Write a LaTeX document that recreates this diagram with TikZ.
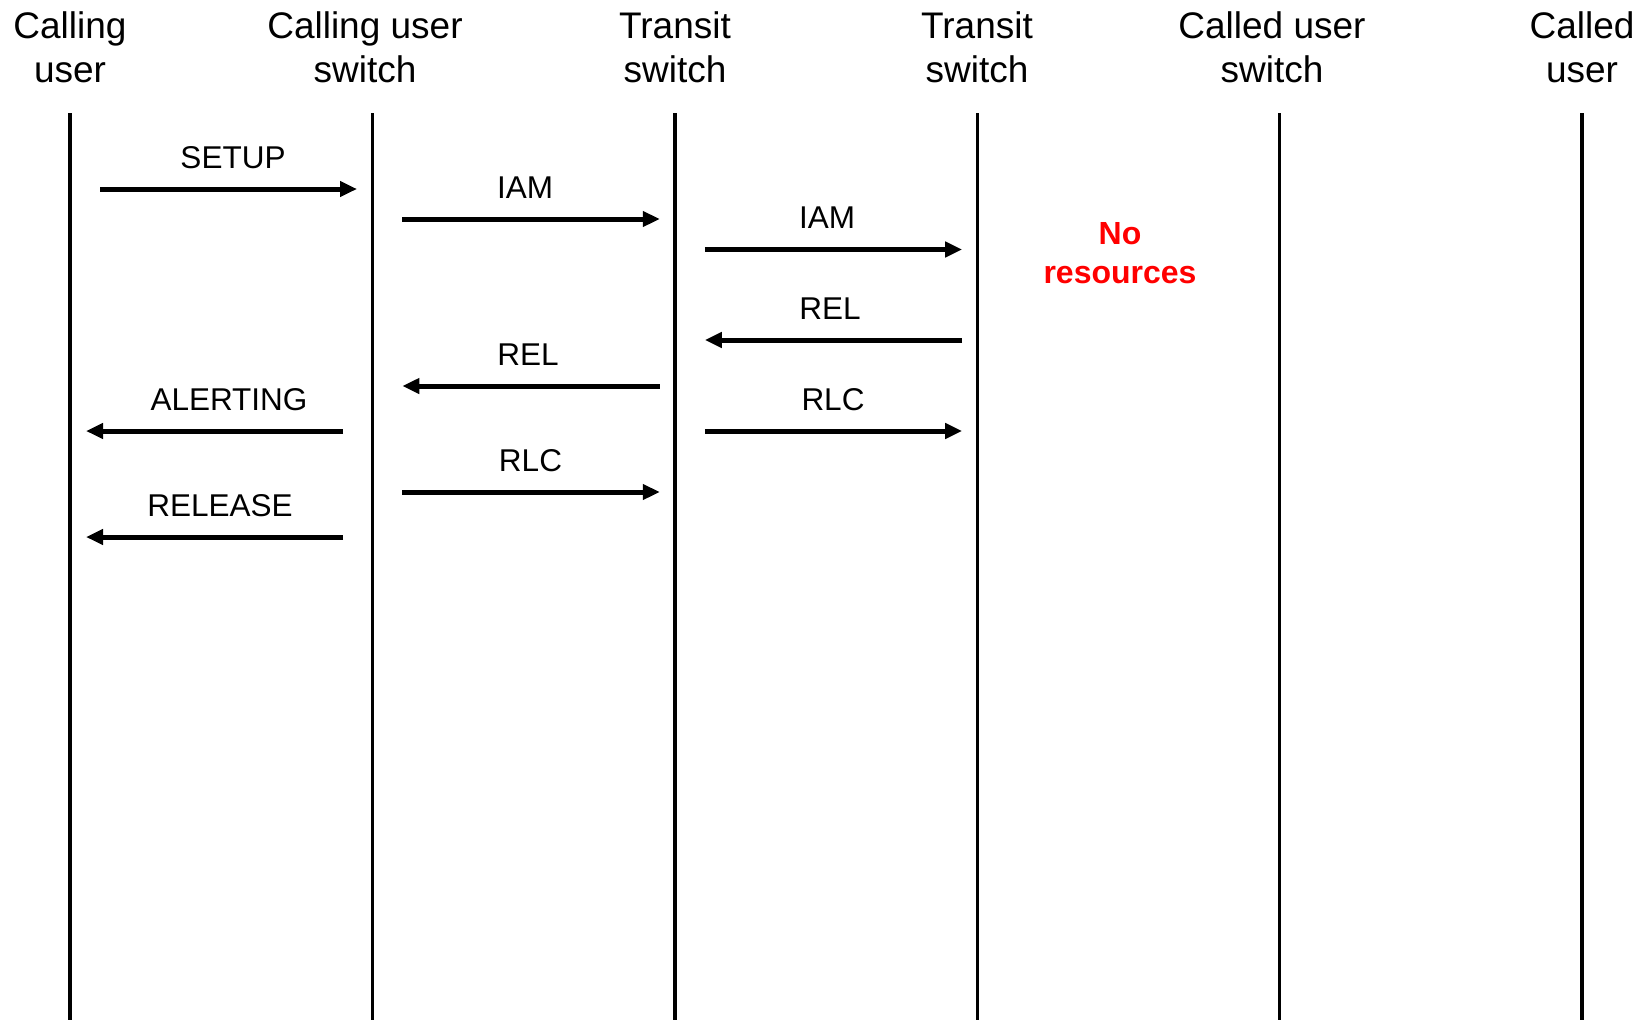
\documentclass[tikz,border=0pt]{standalone}
\usepackage{fontspec}
\setmainfont{Liberation Sans}
\usetikzlibrary{arrows.meta}
\begin{document}
\begin{tikzpicture}[x=1pt,y=-1pt,
  lifeline/.style={line width=3.4pt},
  msg/.style={line width=5pt,-{Triangle[length=17pt,width=15pt]}},
  head/.style={font=\fontsize{37}{44}\selectfont, align=center, inner sep=0pt, anchor=base},
  lbl/.style={font=\fontsize{31.5}{38}\selectfont, inner sep=0pt, anchor=base},
  note/.style={font=\fontsize{32}{38.5}\selectfont\bfseries, text=red, align=center, inner sep=0pt, anchor=base}]
\useasboundingbox[fill=white] (0,0) rectangle (1644,1020);

% headings (base anchor = last line)
\node[head] (h0) at (70,82.5) {Calling\\user};
\node[head] (h1) at (365,82.5) {Calling user\\switch};
\node[head] (h2) at (675,82.5) {Transit\\switch};
\node[head] (h3) at (977,82.5) {Transit\\switch};
\node[head] (h4) at (1272,82.5) {Called user\\switch};
\node[head] (h5) at (1582,82.5) {Called\\user};

% lifelines
\foreach \i/\x in {0/70,1/372.4,2/674.8,3/977.2,4/1279.6,5/1582}{
  \coordinate (t\i) at (\x,113);
  \coordinate (b\i) at (\x,1020);
  \draw[lifeline] (t\i) -- (b\i);
}

% message end points
\coordinate (setupA) at (100,189);   \coordinate (setupB) at (357,189);
\coordinate (iamA) at (402.4,219);   \coordinate (iamB) at (659.8,219);
\coordinate (iamC) at (704.8,249.5); \coordinate (iamD) at (962.2,249.5);
\coordinate (relA) at (962.2,340);   \coordinate (relB) at (704.8,340);
\coordinate (relC) at (659.8,386);   \coordinate (relD) at (402.4,386);
\coordinate (altA) at (343,431);     \coordinate (altB) at (86,431);
\coordinate (rlcA) at (704.8,431);   \coordinate (rlcB) at (962.2,431);
\coordinate (rlcC) at (402.4,492);   \coordinate (rlcD) at (659.8,492);
\coordinate (rlsA) at (343,537);     \coordinate (rlsB) at (86,537);

\draw[msg] (setupA) -- (setupB);
\draw[msg] (iamA) -- (iamB);
\draw[msg] (iamC) -- (iamD);
\draw[msg] (relA) -- (relB);
\draw[msg] (relC) -- (relD);
\draw[msg] (altA) -- (altB);
\draw[msg] (rlcA) -- (rlcB);
\draw[msg] (rlcC) -- (rlcD);
\draw[msg] (rlsA) -- (rlsB);

% labels
\node[lbl] (lsetup) at (233,168) {SETUP};
\node[lbl] (liam1) at (525,198) {IAM};
\node[lbl] (liam2) at (827,228.5) {IAM};
\node[lbl] (lrel1) at (830,319) {REL};
\node[lbl] (lrel2) at (528,365) {REL};
\node[lbl] (lalert) at (229,410) {ALERTING};
\node[lbl] (lrlc1) at (833,410) {RLC};
\node[lbl] (lrlc2) at (530.5,471) {RLC};
\node[lbl] (lrelease) at (220,516) {RELEASE};

\node[note] (nores) at (1120,283) {No\\resources};
\end{tikzpicture}
\end{document}
